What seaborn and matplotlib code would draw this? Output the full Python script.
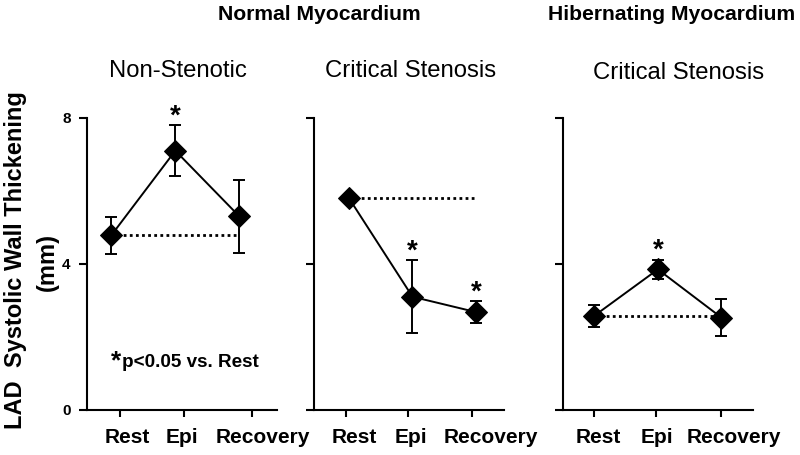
import numpy as np
import pandas as pd
import seaborn as sns
import matplotlib.pyplot as plt

sns.set_theme(style="ticks")
plt.rcParams["font.family"] = ["Liberation Sans", "DejaVu Sans"]
plt.rcParams["text.color"] = "black"
plt.rcParams["xtick.color"] = "black"
plt.rcParams["ytick.color"] = "black"
plt.rcParams["axes.labelcolor"] = "black"
# ----------------------------------------------------------------------------------------------------------------------

# Data | mean +/- error of LAD systolic wall thickening (mm)
phases = ["Rest", "Epi", "Recovery"]

non_stenotic_mean = [4.78, 7.10, 5.30]
non_stenotic_err = [0.50, 0.70, 1.00]
non_stenotic_sig = [False, True, False]

critical_normal_mean = [5.80, 3.10, 2.68]
critical_normal_err = [0.08, 1.00, 0.30]
critical_normal_sig = [False, True, True]

critical_hib_mean = [2.58, 3.85, 2.53]
critical_hib_err = [0.30, 0.27, 0.50]
critical_hib_sig = [False, True, False]

panel_titles = ["Non-Stenotic", "Critical Stenosis", "Critical Stenosis"]
group_titles = ["Normal Myocardium", "Hibernating Myocardium"]
y_ticks = [0, 4, 8]

# Layout | axes rectangles, x limits, tick mark positions, tick label positions
panel_rects = [[0.109, 0.099, 0.2375, 0.642],
               [0.3925, 0.099, 0.2375, 0.642],
               [0.704, 0.099, 0.2375, 0.642]]
panel_xlims = [(-0.375, 2.59), (-0.55, 2.44), (-0.49, 2.5)]
panel_xticks = [[0.14, 1.13, 2.2], [-0.05, 0.93, 1.94], [0.0, 0.97, 2.0]]
panel_xlabel_pos = [[0.25, 1.11, 2.37], [0.08, 0.98, 2.24], [0.06, 0.98, 2.19]]

panels = [(non_stenotic_mean, non_stenotic_err, non_stenotic_sig),
          (critical_normal_mean, critical_normal_err, critical_normal_sig),
          (critical_hib_mean, critical_hib_err, critical_hib_sig)]

fig = plt.figure(figsize=(8, 4.55), dpi=100)

for i, (means, errs, sigs) in enumerate(panels):
    ax = fig.add_axes(panel_rects[i])
    df = pd.DataFrame({"pos": np.arange(len(phases)), "mean": means, "err": errs})

    # Dotted reference line at the Rest value
    ref = pd.DataFrame({"pos": [df["pos"].iloc[0], df["pos"].iloc[-1]],
                        "mean": [means[0], means[0]]})
    sns.lineplot(data=ref, x="pos", y="mean", ax=ax, color="black",
                 linestyle=(0, (1, 1.2)), linewidth=2.0, zorder=1)

    # Error bars then connected diamonds
    ax.errorbar(df["pos"], df["mean"], yerr=df["err"], fmt="none", ecolor="black",
                elinewidth=1.4, capsize=4.6, capthick=1.4, zorder=2)
    sns.lineplot(data=df, x="pos", y="mean", ax=ax, color="black", linewidth=1.4,
                 marker="D", markersize=11, markeredgecolor="black", zorder=3)

    # Significance stars
    for p, m, e, s in zip(df["pos"], means, errs, sigs):
        if s:
            ax.text(p, m + e - 0.12, "*", ha="center", va="bottom",
                    fontsize=20, fontweight="bold")

    ax.set_ylim(0, 8)
    ax.set_xlim(*panel_xlims[i])
    ax.set_yticks(y_ticks)

    # Tick marks on minor ticks, labels on major ticks (Prism places them slightly apart)
    ax.set_xticks(panel_xticks[i], minor=True)
    ax.set_xticks(panel_xlabel_pos[i])
    ax.set_xticklabels(phases, fontsize=15, fontweight="bold")
    ax.tick_params(axis="x", which="major", length=0, pad=13)
    ax.tick_params(axis="x", which="minor", length=5, width=1.5, bottom=True)

    if i == 0:
        ax.set_yticklabels([str(t) for t in y_ticks], fontsize=11, fontweight="bold")
    else:
        ax.set_yticklabels([])
    ax.set_xlabel("")
    ax.set_ylabel("")

    sns.despine(ax=ax)
    ax.spines["left"].set_bounds(0, 8)
    for side in ["left", "bottom"]:
        ax.spines[side].set_linewidth(1.5)
        ax.spines[side].set_color("black")
    ax.tick_params(axis="y", length=6, width=1.5, pad=6)

    if i == 0:
        ax.text(0.08, 1.34, "*", ha="center", va="center", fontsize=19, fontweight="bold")
        ax.text(0.17, 1.3, "p<0.05 vs. Rest", ha="left", va="center", fontsize=13.6,
                fontweight="bold")

# Titles
fig.text(319 / 800, 1 - 14 / 455, group_titles[0], ha="center", va="center",
         fontsize=15.2, fontweight="bold")
fig.text(672 / 800, 1 - 14 / 455, group_titles[1], ha="center", va="center",
         fontsize=15.2, fontweight="bold")
for x_px, y_px, title in zip([178, 411, 679], [71, 71, 73], panel_titles):
    fig.text(x_px / 800, 1 - y_px / 455, title, ha="center", va="center", fontsize=17.2)

# Y axis label
fig.text(16 / 800, 1 - 260 / 455, "LAD  Systolic Wall Thickening", rotation=90,
         ha="center", va="center", fontsize=17, fontweight="bold")
fig.text(47 / 800, 1 - 262 / 455, "(mm)", rotation=90, ha="center", va="center",
         fontsize=17, fontweight="bold")

plt.savefig("out.png", dpi=100)
